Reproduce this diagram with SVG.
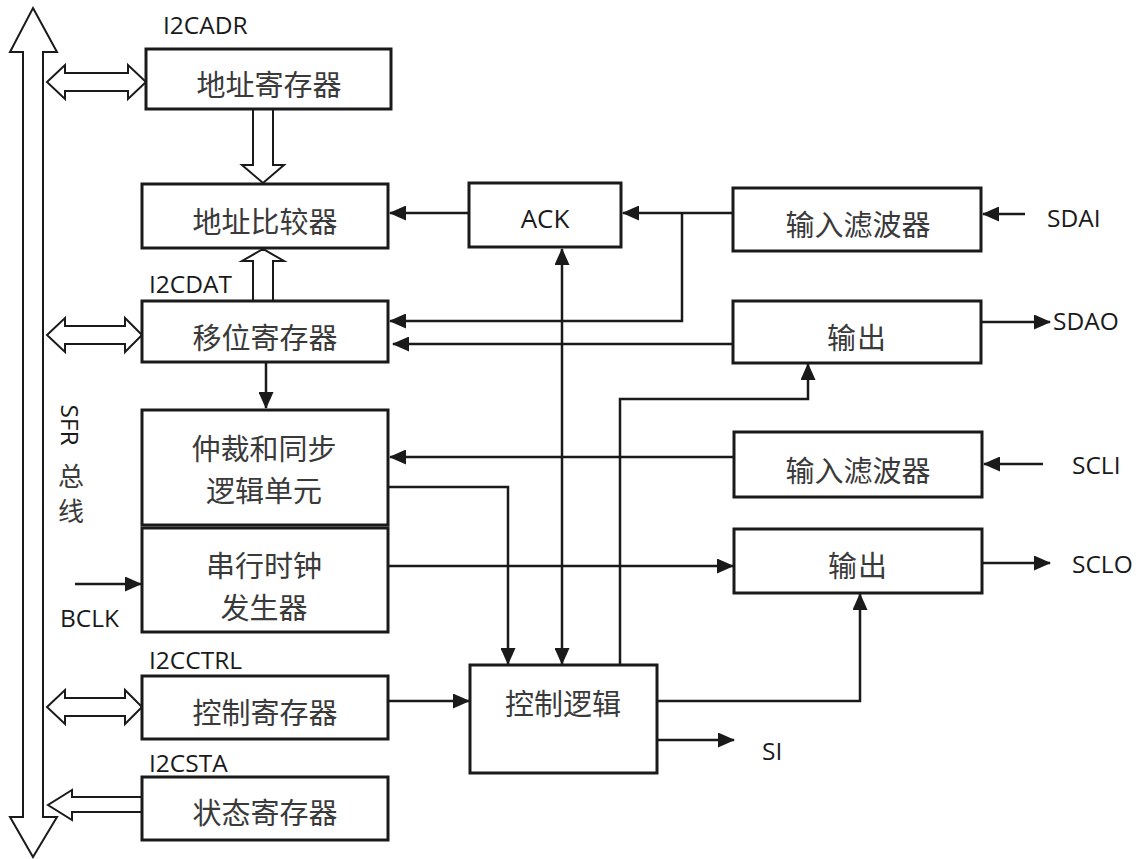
<svg xmlns="http://www.w3.org/2000/svg" width="1138" height="859" viewBox="0 0 1138 859">
<style>
.box{fill:#fff;stroke:#1a1a1a;stroke-width:3}
.hollow{fill:#fff;stroke:#1a1a1a;stroke-width:2;stroke-linejoin:miter}
.cn{font-family:"Noto Sans CJK SC","Noto Sans",sans-serif;font-size:29px;fill:#3a3a3a;text-anchor:middle;dominant-baseline:central}
.lb{font-family:"Open Sans","Liberation Sans",sans-serif;font-size:24.5px;fill:#1a1a1a}
.conn{fill:none;stroke:#1a1a1a;stroke-width:2.5}
</style>
<defs>
<marker id="ah" markerUnits="userSpaceOnUse" markerWidth="17" markerHeight="15" refX="16" refY="7.5" orient="auto-start-reverse">
<path d="M0,0 L17,7.5 L0,15 z" fill="#1a1a1a"/>
</marker>
</defs>
<rect width="1138" height="859" fill="#fff"/>

<g id="sfr-bus">
<polygon class="hollow" points="33,8 57,52 43,52 43,817 57,817 33,857 10,817 23,817 23,52 10,52"/>
<text class="lb" transform="translate(61,425) rotate(90)" text-anchor="middle">SFR</text>
<text class="cn" x="71" y="474" style="font-size:26px">总</text>
<text class="cn" x="71" y="509" style="font-size:26px">线</text>
</g>

<g id="bus-links">
<polygon class="hollow" points="47,82 65,65 65,73 128,73 128,65 146,82 128,99 128,91 65,91 65,99"/>
<polygon class="hollow" points="47,335 65,318 65,326 125,326 125,318 142,335 125,352 125,344 65,344 65,352"/>
<polygon class="hollow" points="47,707 65,690 65,698 125,698 125,690 142,707 125,724 125,716 65,716 65,724"/>
<path class="hollow" d="M141,797 L72,797 L72,790 L48,805 L72,820 L72,812 L141,812"/>
<path class="hollow" d="M253,110 L253,165 L242,165 L263,183 L284,165 L273,165 L273,110"/>
<path class="hollow" d="M253,300 L253,261 L242,261 L263,249 L284,261 L273,261 L273,300"/>
</g>

<g id="connectors">
<path class="conn" d="M469,213 L390,213" marker-end="url(#ah)"/>
<path class="conn" d="M733,213 L623,213" marker-end="url(#ah)"/>
<path class="conn" d="M682,213 L682,321 L390,321" marker-end="url(#ah)"/>
<path class="conn" d="M733,344 L393,344" marker-end="url(#ah)"/>
<path class="conn" d="M1025,214 L983,214" marker-end="url(#ah)"/>
<path class="conn" d="M981,322 L1050,322" marker-end="url(#ah)"/>
<path class="conn" d="M266,362 L266,408" marker-end="url(#ah)"/>
<path class="conn" d="M75,584 L141,584" marker-end="url(#ah)"/>
<path class="conn" d="M562,664 L562,249" marker-start="url(#ah)" marker-end="url(#ah)"/>
<path class="conn" d="M388,487 L508,487 L508,664" marker-end="url(#ah)"/>
<path class="conn" d="M620,665 L620,399 L808,399 L808,364" marker-end="url(#ah)"/>
<path class="conn" d="M734,457 L390,457" marker-end="url(#ah)"/>
<path class="conn" d="M1043,464 L984,464" marker-end="url(#ah)"/>
<path class="conn" d="M388,566 L733,566" marker-end="url(#ah)"/>
<path class="conn" d="M982,563 L1050,563" marker-end="url(#ah)"/>
<path class="conn" d="M657,701 L860,701 L860,594" marker-end="url(#ah)"/>
<path class="conn" d="M388,701 L469,701" marker-end="url(#ah)"/>
<path class="conn" d="M657,740 L734,740" marker-end="url(#ah)"/>
</g>

<g id="addr-reg">
<rect class="box" x="146" y="49" width="245" height="60"/>
<text class="cn" x="269" y="83">地址寄存器</text>
<text class="lb" x="163" y="34">I2CADR</text>
</g>
<g id="addr-cmp">
<rect class="box" x="142" y="184" width="246" height="64"/>
<text class="cn" x="265" y="220">地址比较器</text>
</g>
<g id="shift-reg">
<rect class="box" x="142" y="301" width="246" height="61"/>
<text class="cn" x="265" y="336">移位寄存器</text>
<text class="lb" x="149" y="293">I2CDAT</text>
</g>
<g id="arb">
<rect class="box" x="142" y="410" width="246" height="115"/>
<text class="cn" x="264" y="447">仲裁和同步</text>
<text class="cn" x="264" y="489">逻辑单元</text>
</g>
<g id="clkgen">
<rect class="box" x="142" y="528" width="246" height="104"/>
<text class="cn" x="264" y="564">串行时钟</text>
<text class="cn" x="264" y="606">发生器</text>
<text class="lb" x="60" y="627">BCLK</text>
</g>
<g id="ctrl-reg">
<rect class="box" x="142" y="676" width="246" height="63"/>
<text class="cn" x="265" y="711">控制寄存器</text>
<text class="lb" x="149" y="669">I2CCTRL</text>
</g>
<g id="stat-reg">
<rect class="box" x="142" y="777" width="246" height="63"/>
<text class="cn" x="265" y="811">状态寄存器</text>
<text class="lb" x="149" y="772">I2CSTA</text>
</g>
<g id="ack">
<rect class="box" x="469" y="183" width="152" height="64"/>
<text x="545" y="228" text-anchor="middle" font-family="Open Sans, Liberation Sans, sans-serif" font-size="26" fill="#1a1a1a">ACK</text>
</g>
<g id="sda-filter">
<rect class="box" x="733" y="188" width="248" height="63"/>
<text class="cn" x="858" y="223">输入滤波器</text>
<text class="lb" x="1047" y="227">SDAI</text>
</g>
<g id="sda-out">
<rect class="box" x="733" y="301" width="248" height="62"/>
<text class="cn" x="857" y="336" letter-spacing="1">输出</text>
<text class="lb" x="1053" y="330">SDAO</text>
</g>
<g id="scl-filter">
<rect class="box" x="734" y="432" width="248" height="65"/>
<text class="cn" x="858" y="469">输入滤波器</text>
<text class="lb" x="1072" y="474">SCLI</text>
</g>
<g id="scl-out">
<rect class="box" x="734" y="529" width="248" height="64"/>
<text class="cn" x="858" y="564" letter-spacing="1">输出</text>
<text class="lb" x="1072" y="573">SCLO</text>
</g>
<g id="ctrl-logic">
<rect class="box" x="470" y="665" width="187" height="108"/>
<text class="cn" x="563" y="702">控制逻辑</text>
<text class="lb" x="762" y="760">SI</text>
</g>
</svg>
